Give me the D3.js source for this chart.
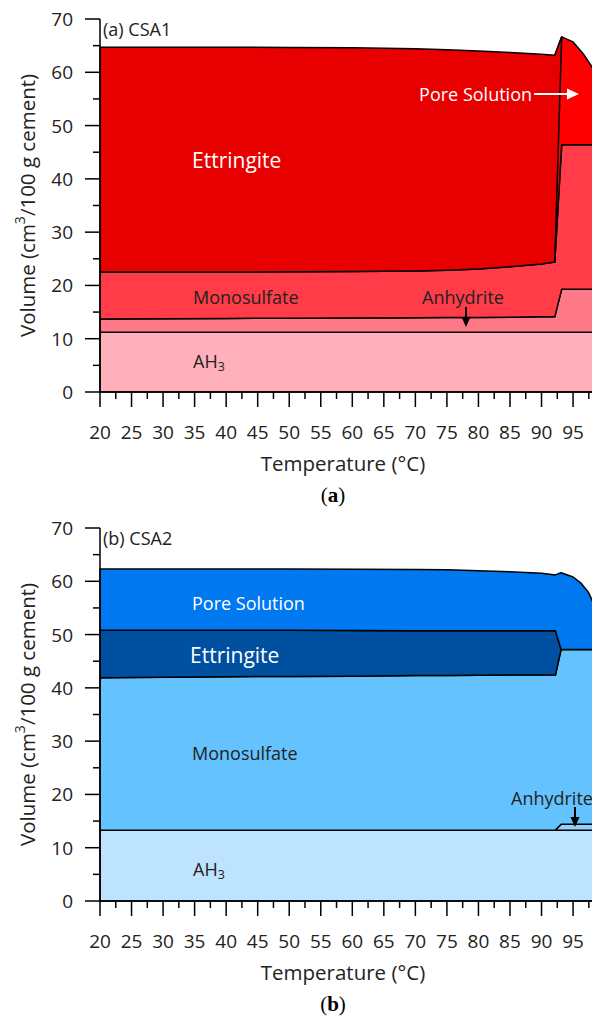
<!DOCTYPE html>
<html>
<head>
<meta charset="utf-8">
<script src="https://cdn.jsdelivr.net/npm/d3@7"></script>
<style>
  body { margin: 0; background: #fff; }
  svg { display: block; font-family: "Open Sans", sans-serif; }
  .tick-label { font-size: 19px; fill: #222; }
  .axis-label { font-size: 20.5px; fill: #222; }
  .layer { stroke: #000; stroke-width: 1.5; stroke-linejoin: round; }
</style>
</head>
<body>
<div id="chart"></div>
<script>
// ---- data: panel (a) CSA1, cumulative volumes (cm3/100 g cement)
const tempA = [20, 30, 40, 50, 60, 70, 75, 80, 85, 90, 92.1, 93.2, 95, 96.6, 98, 99, 100];
const ah3TopA = [11.2, 11.2, 11.2, 11.2, 11.2, 11.2, 11.2, 11.2, 11.2, 11.2, 11.2, 11.2, 11.2, 11.2, 11.2, 11.2, 11.2];
const anhydriteTopA = [13.7, 13.75, 13.8, 13.85, 13.9, 13.95, 14.0, 14.0, 14.05, 14.1, 14.1, 19.3, 19.3, 19.3, 19.3, 19.3, 19.3];
const monoTopA = [22.5, 22.5, 22.5, 22.55, 22.6, 22.7, 22.85, 23.1, 23.5, 24.0, 24.4, 46.4, 46.4, 46.4, 46.4, 46.4, 46.4];
const ettrTopA = [64.7, 64.7, 64.7, 64.65, 64.6, 64.4, 64.25, 64.0, 63.7, 63.4, 63.2];
const poreTopA = [null, null, null, null, null, null, null, null, null, null, 63.2, 66.65, 65.7, 63.5, 61.0, 58.5, 55.0];

// ---- data: panel (b) CSA2
const tempB = [20, 30, 40, 50, 60, 70, 75, 80, 85, 90, 92.2, 93.1, 95, 96.3, 97.4, 98, 99, 100];
const ah3TopB = [13.3, 13.3, 13.3, 13.3, 13.3, 13.3, 13.3, 13.3, 13.3, 13.3, 13.3, 13.3, 13.3, 13.3, 13.3, 13.3, 13.3, 13.3];
const anhydriteTopB = [13.3, 13.3, 13.3, 13.3, 13.3, 13.3, 13.3, 13.3, 13.3, 13.3, 13.3, 14.4, 14.4, 14.4, 14.4, 14.4, 14.4, 14.4];
const monoTopB = [41.9, 42.0, 42.1, 42.15, 42.2, 42.3, 42.3, 42.35, 42.4, 42.4, 42.4, 47.2, 47.2, 47.2, 47.2, 47.2, 47.2, 47.2];
const ettrTopB = [50.8, 50.8, 50.8, 50.8, 50.75, 50.7, 50.7, 50.7, 50.7, 50.7, 50.7, 47.2, 47.2, 47.2, 47.2, 47.2, 47.2, 47.2];
const poreTopB = [62.3, 62.3, 62.3, 62.3, 62.25, 62.2, 62.15, 62.0, 61.8, 61.5, 61.2, 61.6, 60.8, 59.6, 58.0, 56.5, 53.0, 49.0];

const xTicks = [20, 25, 30, 35, 40, 45, 50, 55, 60, 65, 70, 75, 80, 85, 90, 95];
const yTicks = [0, 10, 20, 30, 40, 50, 60, 70];

const colorsA = { ah3: '#ffb0ba', anhydrite: '#ff7888', mono: '#ff3c48', ettr: '#e80000', pore: '#ff0000' };
const colorsB = { ah3: '#bee3fe', anhydrite: '#8fd0ff', mono: '#64c3ff', ettr: '#0050a2', pore: '#0078f0' };

const width = 592, height = 1022;
const svg = d3.select('#chart').append('svg')
  .attr('width', width).attr('height', height)
  .attr('viewBox', [0, 0, width, height]);

const x = d3.scaleLinear().domain([20, 100]).range([100, 604.6]);

function rows(temps, lower, upper) {
  return temps.map((t, i) => ({ t: t, lo: lower[i], hi: upper[i] }))
    .filter(d => d.lo != null && d.hi != null);
}

function drawPanel(top, bottom) {
  const y = d3.scaleLinear().domain([0, 70]).range([bottom, top]);
  const g = svg.append('g');
  const area = d3.area().x(d => x(d.t)).y0(d => y(d.lo)).y1(d => y(d.hi));
  return { y, g, area };
}

function layer(p, data, color) {
  p.g.append('path').attr('class', 'layer').attr('fill', color).attr('d', p.area(data));
}

function axes(p, top, bottom) {
  const ga = svg.append('g');
  ga.append('line').attr('x1', 100).attr('x2', 100).attr('y1', top).attr('y2', bottom)
    .attr('stroke', '#000').attr('stroke-width', 1.5);
  ga.append('line').attr('x1', 100).attr('x2', 600).attr('y1', bottom).attr('y2', bottom)
    .attr('stroke', '#000').attr('stroke-width', 1.5);
  // y ticks
  d3.range(0, 71, 5).forEach(v => {
    const major = v % 10 === 0;
    ga.append('line').attr('x1', 100).attr('x2', major ? 85 : 93)
      .attr('y1', p.y(v)).attr('y2', p.y(v)).attr('stroke', '#000').attr('stroke-width', 1.5);
  });
  yTicks.forEach(v => {
    ga.append('text').attr('class', 'tick-label').attr('x', 73).attr('y', p.y(v))
      .attr('text-anchor', 'end').attr('dominant-baseline', 'central').text(v);
  });
  // x ticks
  d3.range(20, 100.1, 2.5).forEach(v => {
    const major = v % 5 === 0;
    ga.append('line').attr('x1', x(v)).attr('x2', x(v))
      .attr('y1', bottom).attr('y2', bottom + (major ? 15 : 7))
      .attr('stroke', '#000').attr('stroke-width', 1.5);
  });
  xTicks.forEach(v => {
    ga.append('text').attr('class', 'tick-label').attr('x', x(v)).attr('y', bottom + 40)
      .attr('text-anchor', 'middle').attr('dominant-baseline', 'central').text(v);
  });
  ga.append('text').attr('class', 'axis-label').attr('x', 343).attr('y', bottom + 71)
    .attr('text-anchor', 'middle').attr('dominant-baseline', 'central').text('Temperature (°C)');
  const yl = ga.append('text').attr('class', 'axis-label')
    .attr('transform', `translate(27,${(top + bottom) / 2}) rotate(-90)`)
    .attr('text-anchor', 'middle').attr('dominant-baseline', 'central');
  yl.append('tspan').text('Volume (cm');
  yl.append('tspan').attr('dy', -8).attr('font-size', 14).text('3');
  yl.append('tspan').attr('dy', 8).text('/100 g cement)');
}

function label(txt, x0, y0, opts = {}) {
  return svg.append('text').attr('x', x0).attr('y', y0)
    .attr('dominant-baseline', 'central')
    .attr('text-anchor', opts.anchor || 'start')
    .attr('font-size', opts.size || 18)
    .attr('fill', opts.color || '#222')
    .text(txt);
}

function ah3Label(x0, y0) {
  const t = label('AH', x0, y0);
  t.append('tspan').attr('dy', 5).attr('font-size', 12.5).text('3');
}

function arrow(x1, y1, x2, y2, color, head) {
  const a = Math.atan2(y2 - y1, x2 - x1);
  const bx = x2 - head * Math.cos(a), by = y2 - head * Math.sin(a);
  svg.append('line').attr('x1', x1).attr('y1', y1).attr('x2', bx).attr('y2', by)
    .attr('stroke', color).attr('stroke-width', 2);
  const w = head * 0.45;
  const pts = [[x2, y2],
    [bx + w * Math.sin(a), by - w * Math.cos(a)],
    [bx - w * Math.sin(a), by + w * Math.cos(a)]];
  svg.append('polygon').attr('points', pts.map(p => p.join(',')).join(' ')).attr('fill', color);
}

// ---------- panel (a)
const pa = drawPanel(19, 392);
const zerosA = tempA.map(() => 0);
layer(pa, rows(tempA, zerosA, ah3TopA), colorsA.ah3);
layer(pa, rows(tempA, ah3TopA, anhydriteTopA), colorsA.anhydrite);
layer(pa, rows(tempA, anhydriteTopA, monoTopA), colorsA.mono);
layer(pa, rows(tempA, monoTopA, poreTopA), colorsA.pore);
// ettringite: right edge runs from its base at 92.1 up to the pore-solution peak
const ettrRows = ettrTopA.map((v, i) => ({ t0: tempA[i], t1: tempA[i], lo: monoTopA[i], hi: v }));
ettrRows.push({ t0: tempA[10], t1: tempA[11], lo: monoTopA[10], hi: poreTopA[11] });
pa.g.append('path').attr('class', 'layer').attr('fill', colorsA.ettr)
  .attr('d', d3.area().x0(d => x(d.t0)).x1(d => x(d.t1)).y0(d => pa.y(d.lo)).y1(d => pa.y(d.hi))(ettrRows));
axes(pa, 19, 392);

label('(a) CSA1', 103, 29);
label('Ettringite', 192, 160, { color: '#fff', size: 21 });
label('Pore Solution', 532, 94, { color: '#fff', anchor: 'end' });
arrow(534, 94, 579, 94, '#fff', 12);
label('Monosulfate', 193, 297);
label('Anhydrite', 422, 297);
arrow(466, 307, 466, 327, '#000', 10);
ah3Label(193, 361);
svg.append('text').attr('x', 333).attr('y', 495).attr('text-anchor', 'middle')
  .attr('dominant-baseline', 'central').attr('font-family', 'Liberation Serif, serif')
  .attr('font-size', 21).attr('fill', '#000')
  .html('(<tspan font-weight="bold">a</tspan>)');

// ---------- panel (b)
const pb = drawPanel(528, 901);
const zerosB = tempB.map(() => 0);
layer(pb, rows(tempB, zerosB, ah3TopB), colorsB.ah3);
layer(pb, rows(tempB, ah3TopB, anhydriteTopB), colorsB.anhydrite);
layer(pb, rows(tempB, anhydriteTopB, monoTopB), colorsB.mono);
layer(pb, rows(tempB, monoTopB, ettrTopB), colorsB.ettr);
layer(pb, rows(tempB, ettrTopB, poreTopB), colorsB.pore);
axes(pb, 528, 901);

label('(b) CSA2', 103, 538);
label('Pore Solution', 192, 603, { color: '#fff' });
label('Ettringite', 190, 655, { color: '#fff', size: 21 });
label('Monosulfate', 192, 753);
label('Anhydrite', 511, 798);
arrow(575, 807, 575, 827, '#000', 10);
ah3Label(193, 869);
svg.append('text').attr('x', 333).attr('y', 1004).attr('text-anchor', 'middle')
  .attr('dominant-baseline', 'central').attr('font-family', 'Liberation Serif, serif')
  .attr('font-size', 21).attr('fill', '#000')
  .html('(<tspan font-weight="bold">b</tspan>)');
</script>
</body>
</html>
